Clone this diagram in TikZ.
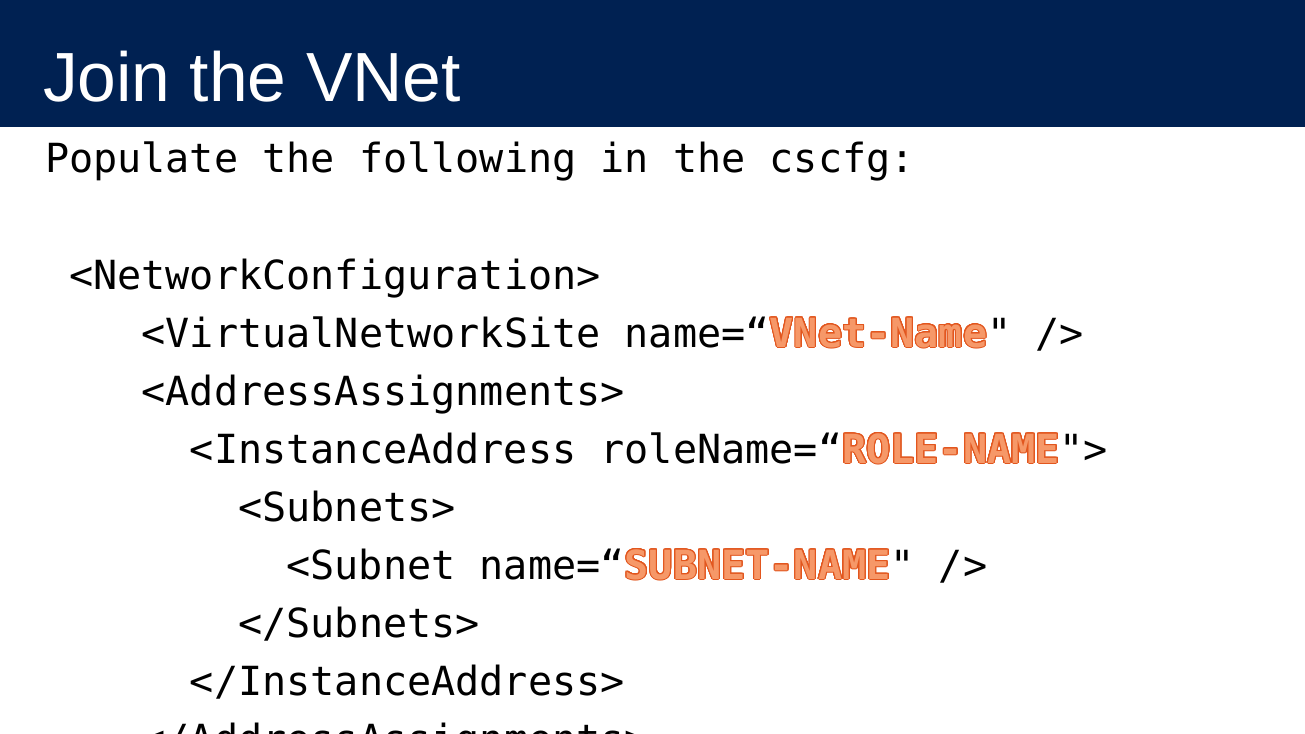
\documentclass[tikz,border=0pt]{standalone}
\usepackage{fontspec}
\usepackage[copies]{contour}
\setmainfont{Liberation Sans}
\newfontfamily\codefont{DejaVu Sans Mono}
\definecolor{bandblue}{RGB}{0,33,82}
\definecolor{hlfill}{RGB}{246,152,104}
\definecolor{hlline}{RGB}{226,86,30}
\contourlength{0.75pt}
\contournumber{24}
\newcommand{\hl}[1]{{\color{hlfill}\contour{hlline}{\bfseries #1}}}
\tikzset{
  x=0.75pt, y=-0.75pt,
  codeline/.style={anchor=base west, inner sep=0pt, outer sep=0pt,
    font=\codefont\fontsize{30.1pt}{36pt}\selectfont, text=black},
  titletext/.style={anchor=base west, inner sep=0pt, outer sep=0pt,
    font=\fontsize{52.2pt}{60pt}\selectfont, text=white}
}
\begin{document}
\begin{tikzpicture}
\useasboundingbox (0,0) rectangle (1305,734);
\clip (0,0) rectangle (1305,734);
\fill[white] (0,0) rectangle (1305,734);
\fill[bandblue] (0,0) rectangle (1305,127);
\node[titletext] (title) at (43,102) {Join the VNet};
\def\w{24.15}
\node[codeline] (l0) at (45,173) {Populate the following in the cscfg:};
\node[codeline] (l2) at ({45+1*\w},289) {<NetworkConfiguration>};
\node[codeline] (l3) at ({45+4*\w},347) {<VirtualNetworkSite name=“\hl{VNet-Name}" />};
\node[codeline] (l4) at ({45+4*\w},405) {<AddressAssignments>};
\node[codeline] (l5) at ({45+6*\w},463) {<InstanceAddress roleName=“\hl{ROLE-NAME}">};
\node[codeline] (l6) at ({45+8*\w},521) {<Subnets>};
\node[codeline] (l7) at ({45+10*\w},579) {<Subnet name=“\hl{SUBNET-NAME}" />};
\node[codeline] (l8) at ({45+8*\w},637) {</Subnets>};
\node[codeline] (l9) at ({45+6*\w},695) {</InstanceAddress>};
\node[codeline] (l10) at ({45+4*\w},753) {</AddressAssignments>};
\end{tikzpicture}
\end{document}
